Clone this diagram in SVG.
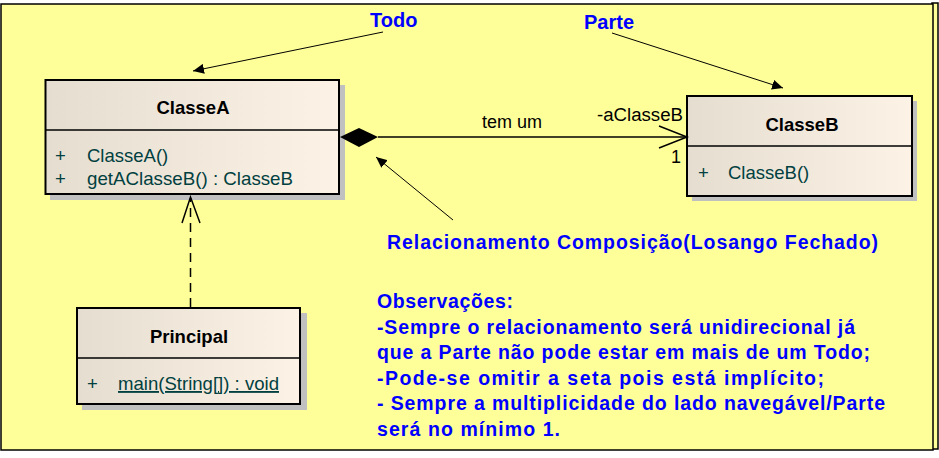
<svg xmlns="http://www.w3.org/2000/svg" width="939" height="458" viewBox="0 0 939 458">
<defs>
<linearGradient id="cls" x1="0" y1="0" x2="1" y2="0">
<stop offset="0" stop-color="#E6DDD1"/>
<stop offset="1" stop-color="#FCF3E6"/>
</linearGradient>
<marker id="fill" markerWidth="12" markerHeight="10" refX="11" refY="5" orient="auto" markerUnits="userSpaceOnUse">
<path d="M0,0 L11,5 L0,10 Z" fill="#000"/>
</marker>
</defs>
<style>
.frame{fill:#FFFF99;stroke:#000;stroke-width:1.5}
.shadow{fill:#C0C0C0}
.box{fill:url(#cls);stroke:#000;stroke-width:2}
.div{stroke:#000;stroke-width:1.5}
.title{font-family:"Liberation Sans",Arial,sans-serif;font-weight:bold;font-size:18.5px;fill:#000;text-anchor:middle}
.op{font-family:"Liberation Sans",Arial,sans-serif;font-size:18.5px;fill:#004040}
.lbl{font-family:"Liberation Sans",Arial,sans-serif;font-size:18px;fill:#000}
.head{font-family:"Liberation Sans",Arial,sans-serif;font-weight:bold;font-size:20px;fill:#0000FF}
.note{font-family:"Liberation Sans",Arial,sans-serif;font-weight:bold;font-size:19.5px;fill:#0000FF}
.ann{stroke:#000;stroke-width:1;fill:none}
.conn{stroke:#000;stroke-width:1.5;fill:none}
</style>
<rect x="932" y="3" width="6" height="446" class="frame"/>
<rect x="1" y="4" width="932" height="446" class="frame"/>

<g id="ClasseA">
<rect x="50" y="85" width="295" height="115" class="shadow"/>
<rect x="45.5" y="80" width="293.5" height="114" class="box"/>
<line x1="45.5" y1="130" x2="339" y2="130" class="div"/>
<text x="193" y="114" class="title">ClasseA</text>
<text x="55" y="162" class="op">+</text>
<text x="87" y="162" class="op">ClasseA()</text>
<text x="55" y="185" class="op">+</text>
<text x="87" y="185" class="op" textLength="206" lengthAdjust="spacingAndGlyphs">getAClasseB() : ClasseB</text>
</g>

<g id="ClasseB">
<rect x="692" y="101" width="225" height="100" class="shadow"/>
<rect x="687" y="96" width="225" height="100" class="box"/>
<line x1="687" y1="146" x2="912" y2="146" class="div"/>
<text x="802" y="131" class="title">ClasseB</text>
<text x="698" y="179" class="op">+</text>
<text x="728" y="179" class="op">ClasseB()</text>
</g>

<g id="Principal">
<rect x="82" y="313" width="225" height="97" class="shadow"/>
<rect x="77" y="308" width="223" height="96" class="box"/>
<line x1="77" y1="358" x2="300" y2="358" class="div"/>
<text x="189" y="343" class="title">Principal</text>
<text x="87" y="390" class="op">+</text>
<text x="118" y="390" class="op" text-decoration="underline" textLength="161" lengthAdjust="spacingAndGlyphs">main(String[]) : void</text>
</g>

<g id="connectors">
<path d="M340,137 L359,128 L378,137 L359,147 Z" fill="#000"/>
<line x1="378" y1="137" x2="687" y2="137" class="conn"/>
<path d="M659,126 L687,137 L659,148" class="conn"/>
<line x1="190.5" y1="307" x2="190.5" y2="198" class="conn" stroke-dasharray="9,6"/>
<path d="M182,223 L190.5,197 L200,223" class="conn"/>
<text x="482" y="128" class="lbl" textLength="60" lengthAdjust="spacingAndGlyphs">tem um</text>
<text x="597" y="121" class="lbl" textLength="86" lengthAdjust="spacingAndGlyphs">-aClasseB</text>
<text x="671" y="163" class="lbl">1</text>
<line x1="383" y1="32" x2="193" y2="71" class="ann" marker-end="url(#fill)"/>
<line x1="612" y1="33" x2="783" y2="88" class="ann" marker-end="url(#fill)"/>
<line x1="453" y1="220" x2="376" y2="157" class="ann" marker-end="url(#fill)"/>
</g>

<g id="annotations">
<text x="370" y="27" class="head">Todo</text>
<text x="584" y="29" class="head">Parte</text>
<text x="387" y="249" class="note" textLength="491" lengthAdjust="spacing">Relacionamento Composição(Losango Fechado)</text>
<text x="377" y="308" class="note" textLength="136" lengthAdjust="spacing">Observações:</text>
<text x="377" y="334" class="note" textLength="478" lengthAdjust="spacing">-Sempre o relacionamento será unidirecional já</text>
<text x="377" y="359" class="note" textLength="493" lengthAdjust="spacing">que a Parte não pode estar em mais de um Todo;</text>
<text x="377" y="385" class="note" textLength="447" lengthAdjust="spacing">-Pode-se omitir a seta pois está implícito;</text>
<text x="377" y="410" class="note" textLength="508" lengthAdjust="spacing">- Sempre a multiplicidade do lado navegável/Parte</text>
<text x="377" y="436" class="note" textLength="183" lengthAdjust="spacing">será no mínimo 1.</text>
</g>
</svg>
